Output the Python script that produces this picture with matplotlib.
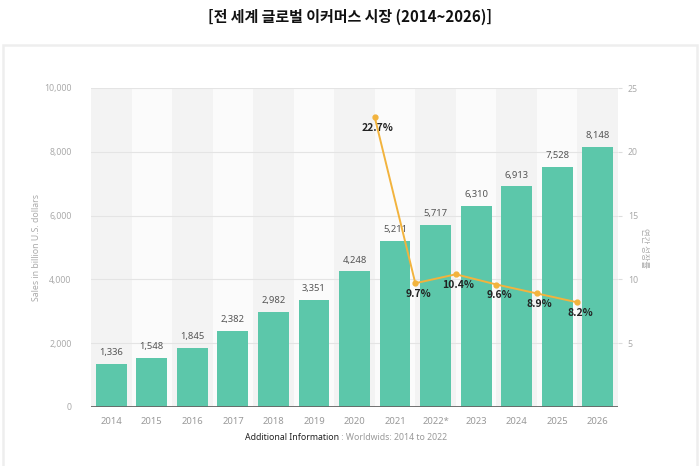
import matplotlib.pyplot as plt
from matplotlib.patches import Rectangle

plt.rcParams['font.family'] = ['Noto Sans', 'Noto Sans CJK KR', 'DejaVu Sans']

years = ['2014', '2015', '2016', '2017', '2018', '2019', '2020',
         '2021', '2022*', '2023', '2024', '2025', '2026']
sales = [1336, 1548, 1845, 2382, 2982, 3351, 4248,
         5211, 5717, 6310, 6913, 7528, 8148]
growth_years = ['2021', '2022*', '2023', '2024', '2025', '2026']
growth = [22.7, 9.7, 10.4, 9.6, 8.9, 8.2]

bar_color = '#5cc7aa'
line_color = '#f2b33d'
cjk = ['Noto Sans CJK KR', 'DejaVu Sans']

fig = plt.figure(figsize=(7, 4.66), dpi=100)

# card border
fig.patches.append(Rectangle((3 / 700, -0.01), 694 / 700, 1 - 45 / 466 + 0.01,
                             transform=fig.transFigure, facecolor='none',
                             edgecolor='#eeeeee', linewidth=1.8, zorder=-1))

fig.text(0.5, 1 - 17 / 466, '[전 세계 글로벌 이커머스 시장 (2014~2026)]',
         ha='center', va='center', fontsize=10.8, fontweight='bold', color='#111111',
         family=cjk)

ax = fig.add_axes([91 / 700, 1 - 407 / 466, 527 / 700, 319 / 466])
ax.set_facecolor('#fbfbfb')
x = list(range(len(years)))
for i in x:
    if i % 2 == 0:
        ax.axvspan(i - 0.5, i + 0.5, color='#f3f3f3', zorder=0, lw=0)

ax.set_ylim(0, 10000)
ax.set_xlim(-0.5, len(years) - 0.5)
ax.set_yticks(range(0, 10001, 2000))
ax.set_yticklabels(['0', '2,000', '4,000', '6,000', '8,000', '10,000'])
ax.grid(axis='y', color='#e4e4e4', linewidth=0.8, zorder=1)
ax.set_axisbelow(True)

ax.bar(x, sales, width=0.76, color=bar_color, zorder=2)
for i, v in zip(x, sales):
    ax.annotate(f'{v:,}', (i, v), xytext=(0, 5), textcoords='offset points',
                ha='center', va='bottom', fontsize=6.8, color='#555555', zorder=5)

ax.axhline(0, color='#666666', linewidth=1.3, zorder=3)

ax.set_xticks(x)
ax.set_xticklabels(years)
for s in ax.spines.values():
    s.set_visible(False)
ax.tick_params(axis='x', length=0, pad=7, labelsize=6.8, labelcolor='#999999')
ax.tick_params(axis='y', length=0, pad=14, labelsize=6.3, labelcolor='#aaaaaa')
ax.set_ylabel('Sales in billion U.S. dollars', fontsize=6.3, color='#aaaaaa', labelpad=2)

ax2 = ax.twinx()
ax2.set_ylim(0, 25)
ax2.set_yticks([5, 10, 15, 20, 25])
for s in ax2.spines.values():
    s.set_visible(False)
ax2.tick_params(axis='y', length=3, color='#dddddd', pad=4, labelsize=6.3, labelcolor='#aaaaaa')
ax2.set_ylabel('연간 성장률', rotation=270, fontsize=6, color='#aaaaaa', labelpad=8,
               family=cjk)

gx = [years.index(y) - 0.5 for y in growth_years]
ax2.plot(gx, growth, color=line_color, linewidth=1.4, marker='o', markersize=3.5, zorder=4)
for xi, g in zip(gx, growth):
    ax2.annotate(f'{g}%', (xi, g), xytext=(2, -4), textcoords='offset points',
                 ha='center', va='top', fontsize=7.5, fontweight='bold', color='#222222',
                 family=cjk)

fig.text(339 / 700, 1 - 438 / 466, 'Additional Information', ha='right', va='center',
         fontsize=6.3, color='#222222')
fig.text(339 / 700, 1 - 438 / 466, ' : Worldwids: 2014 to 2022', ha='left', va='center',
         fontsize=6.3, color='#999999')

fig.savefig('out.png', dpi=100)
